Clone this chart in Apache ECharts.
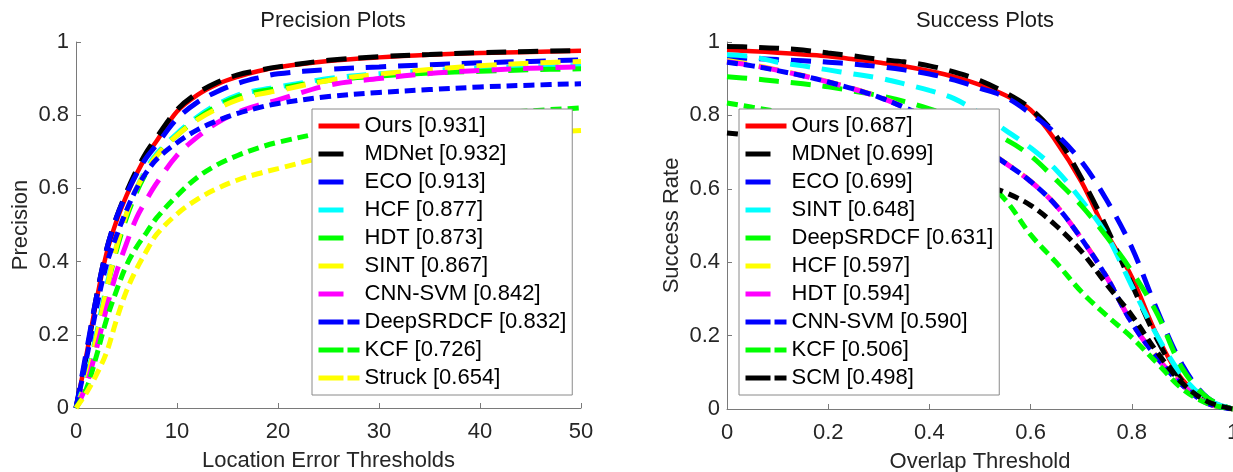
<!DOCTYPE html>
<html>
<head>
<meta charset="utf-8">
<title>Precision and Success Plots</title>
<script src="https://cdn.jsdelivr.net/npm/echarts@6/dist/echarts.min.js"></script>
<style>
  html, body { margin: 0; padding: 0; background: #ffffff; }
  #chart { width: 1233px; height: 472px; }
</style>
</head>
<body>
<div id="chart"></div>
<script>
// ---- Precision plot (location error threshold in pixels) ----
const locThresholds = [0, 1, 2, 3, 4, 5, 6, 7, 8, 10, 12, 14, 16, 18, 20, 25, 30, 35, 40, 45, 50];

const precOurs      = [0, 0.14, 0.29, 0.42, 0.51, 0.58, 0.64, 0.69, 0.73, 0.81, 0.855, 0.885, 0.905, 0.92, 0.931, 0.948, 0.958, 0.965, 0.970, 0.973, 0.976];
const precMDNet     = [0, 0.14, 0.30, 0.43, 0.52, 0.59, 0.65, 0.70, 0.74, 0.815, 0.86, 0.89, 0.91, 0.922, 0.932, 0.950, 0.960, 0.966, 0.971, 0.974, 0.977];
const precECO       = [0, 0.15, 0.30, 0.43, 0.52, 0.585, 0.64, 0.685, 0.72, 0.79, 0.835, 0.865, 0.887, 0.902, 0.913, 0.925, 0.932, 0.938, 0.943, 0.947, 0.951];
const precHCF       = [0, 0.08, 0.20, 0.33, 0.44, 0.53, 0.60, 0.655, 0.695, 0.75, 0.795, 0.83, 0.855, 0.868, 0.877, 0.900, 0.913, 0.922, 0.928, 0.932, 0.936];
const precHDT       = [0, 0.07, 0.19, 0.32, 0.43, 0.52, 0.59, 0.645, 0.69, 0.745, 0.79, 0.825, 0.85, 0.864, 0.873, 0.895, 0.907, 0.915, 0.920, 0.924, 0.927];
const precSINT      = [0, 0.07, 0.19, 0.32, 0.44, 0.53, 0.60, 0.65, 0.69, 0.745, 0.787, 0.818, 0.842, 0.857, 0.867, 0.895, 0.912, 0.925, 0.935, 0.942, 0.947];
const precCNNSVM    = [0, 0.06, 0.16, 0.27, 0.37, 0.45, 0.52, 0.57, 0.615, 0.69, 0.74, 0.78, 0.808, 0.827, 0.842, 0.882, 0.900, 0.914, 0.922, 0.928, 0.932];
const precDeepSRDCF = [0, 0.13, 0.27, 0.39, 0.47, 0.54, 0.60, 0.645, 0.68, 0.725, 0.76, 0.785, 0.805, 0.82, 0.832, 0.851, 0.862, 0.870, 0.877, 0.882, 0.886];
const precKCF       = [0, 0.05, 0.14, 0.24, 0.32, 0.39, 0.44, 0.48, 0.52, 0.58, 0.63, 0.665, 0.69, 0.71, 0.726, 0.755, 0.775, 0.790, 0.803, 0.812, 0.820];
const precStruck    = [0, 0.04, 0.09, 0.15, 0.24, 0.32, 0.38, 0.43, 0.475, 0.53, 0.57, 0.60, 0.623, 0.64, 0.654, 0.688, 0.710, 0.727, 0.740, 0.750, 0.758];

const precNames = ['Ours [0.931]', 'MDNet [0.932]', 'ECO [0.913]', 'HCF [0.877]', 'HDT [0.873]',
                   'SINT [0.867]', 'CNN-SVM [0.842]', 'DeepSRDCF [0.832]', 'KCF [0.726]', 'Struck [0.654]'];
const precValues = [precOurs, precMDNet, precECO, precHCF, precHDT, precSINT, precCNNSVM, precDeepSRDCF, precKCF, precStruck];

// ---- Success plot (overlap threshold) ----
const overlapThresholds = [0, 0.05, 0.1, 0.15, 0.2, 0.25, 0.3, 0.35, 0.4, 0.45, 0.5, 0.55, 0.6, 0.65, 0.7, 0.75, 0.8, 0.85, 0.9, 0.95, 1];

const succOurs      = [0.978, 0.975, 0.971, 0.966, 0.961, 0.953, 0.944, 0.934, 0.921, 0.905, 0.883, 0.855, 0.815, 0.73, 0.62, 0.48, 0.36, 0.20, 0.08, 0.025, 0];
const succMDNet     = [0.988, 0.986, 0.983, 0.978, 0.970, 0.962, 0.953, 0.946, 0.935, 0.918, 0.895, 0.862, 0.818, 0.745, 0.63, 0.495, 0.34, 0.19, 0.075, 0.02, 0];
const succECO       = [0.957, 0.955, 0.952, 0.949, 0.945, 0.940, 0.933, 0.924, 0.913, 0.896, 0.874, 0.85, 0.805, 0.75, 0.675, 0.57, 0.44, 0.27, 0.12, 0.03, 0];
const succSINT      = [0.965, 0.960, 0.945, 0.935, 0.924, 0.913, 0.902, 0.886, 0.868, 0.845, 0.805, 0.76, 0.712, 0.652, 0.57, 0.475, 0.335, 0.20, 0.09, 0.025, 0];
const succDeepSRDCF = [0.905, 0.900, 0.893, 0.886, 0.878, 0.866, 0.854, 0.838, 0.818, 0.795, 0.765, 0.735, 0.69, 0.625, 0.555, 0.47, 0.375, 0.26, 0.11, 0.03, 0];
const succHCF       = [0.950, 0.938, 0.924, 0.909, 0.892, 0.873, 0.851, 0.823, 0.791, 0.756, 0.716, 0.671, 0.621, 0.556, 0.466, 0.361, 0.236, 0.141, 0.066, 0.015, 0];
const succHDT       = [0.946, 0.936, 0.923, 0.908, 0.891, 0.872, 0.850, 0.822, 0.790, 0.755, 0.715, 0.670, 0.620, 0.555, 0.465, 0.360, 0.235, 0.140, 0.065, 0.015, 0];
const succCNNSVM    = [0.945, 0.935, 0.922, 0.908, 0.891, 0.872, 0.850, 0.822, 0.790, 0.755, 0.715, 0.670, 0.620, 0.555, 0.465, 0.360, 0.235, 0.140, 0.065, 0.015, 0];
const succKCF       = [0.834, 0.822, 0.810, 0.796, 0.780, 0.763, 0.743, 0.721, 0.696, 0.665, 0.63, 0.57, 0.475, 0.40, 0.32, 0.255, 0.195, 0.125, 0.055, 0.015, 0];
const succSCM       = [0.752, 0.745, 0.737, 0.728, 0.718, 0.706, 0.692, 0.677, 0.660, 0.640, 0.615, 0.59, 0.555, 0.50, 0.43, 0.34, 0.255, 0.155, 0.07, 0.02, 0];

const succNames = ['Ours [0.687]', 'MDNet [0.699]', 'ECO [0.699]', 'SINT [0.648]', 'DeepSRDCF [0.631]',
                   'HCF [0.597]', 'HDT [0.594]', 'CNN-SVM [0.590]', 'KCF [0.506]', 'SCM [0.498]'];
const succValues = [succOurs, succMDNet, succECO, succSINT, succDeepSRDCF, succHCF, succHDT, succCNNSVM, succKCF, succSCM];

// ---- styling ----
const FONT = '"Liberation Sans", Arial, Helvetica, sans-serif';
const RED = '#ff0000', BLACK = '#000000', BLUE = '#0000ff', CYAN = '#00ffff',
      GREEN = '#00ff00', YELLOW = '#ffff00', MAGENTA = '#ff00ff';

const precColors = [RED, BLACK, BLUE, CYAN, GREEN, YELLOW, MAGENTA, BLUE, GREEN, YELLOW];
const succColors = [RED, BLACK, BLUE, CYAN, GREEN, YELLOW, MAGENTA, BLUE, GREEN, BLACK];
const lineKinds  = ['solid', 'dash', 'dash', 'dash', 'dash', 'dash', 'dash', 'dot', 'dot', 'dot'];

const CURVE_DASH  = { solid: 'solid', dash: [20, 12], dot: [11, 6] };
const LEGEND_DASH = { solid: 'solid', dash: [25, 40], dot: [25, 4, 12, 40] };

function buildSeries(names, values, xs, colors, axisIndex) {
  return names.map((name, i) => ({
    name: name,
    type: 'line',
    xAxisIndex: axisIndex,
    yAxisIndex: axisIndex,
    data: xs.map((x, k) => [x, values[i][k]]),
    smooth: 0.35,
    symbol: 'none',
    silent: true,
    animation: false,
    lineStyle: {
      color: colors[i],
      width: lineKinds[i] === 'solid' ? 4.5 : 5,
      type: CURVE_DASH[lineKinds[i]],
      cap: 'butt'
    },
    itemStyle: { color: colors[i] }
  }));
}

function buildLegend(names, colors, left) {
  return {
    orient: 'vertical',
    left: left,
    top: 109,
    padding: [5, 6, 5, 4],
    itemGap: 4,
    itemWidth: 41,
    itemHeight: 12,
    backgroundColor: '#ffffff',
    borderColor: '#8a8a8a',
    borderWidth: 1,
    borderRadius: 0,
    selectedMode: false,
    textStyle: { fontFamily: FONT, fontSize: 22, lineHeight: 24, color: '#000000' },
    data: names.map((name, i) => ({
      name: name,
      itemStyle: { opacity: 0 },
      lineStyle: {
        color: colors[i],
        width: 5,
        type: LEGEND_DASH[lineKinds[i]],
        opacity: 1,
        cap: 'butt'
      }
    }))
  };
}

const axisCommon = {
  axisLine: { show: true, onZero: false, lineStyle: { color: '#7a7a7a', width: 1 } },
  axisTick: { show: true, inside: true, length: 5, lineStyle: { color: '#7a7a7a' } },
  splitLine: { show: false },
  nameLocation: 'middle',
  nameTextStyle: { fontFamily: FONT, fontSize: 22, color: '#262626' }
};

function xAxis(grid, max, interval, name) {
  return Object.assign({}, axisCommon, {
    type: 'value', gridIndex: grid, min: 0, max: max, interval: interval,
    name: name, nameGap: 42,
    axisLabel: { fontFamily: FONT, fontSize: 22, color: '#262626', margin: 13 }
  });
}
function yAxis(grid, name) {
  return Object.assign({}, axisCommon, {
    type: 'value', gridIndex: grid, min: 0, max: 1, interval: 0.2,
    name: name, nameGap: 44,
    axisLabel: { fontFamily: FONT, fontSize: 22, color: '#262626', margin: 7 }
  });
}

const chart = echarts.init(document.getElementById('chart'), null, { renderer: 'canvas' });
chart.setOption({
  backgroundColor: '#ffffff',
  animation: false,
  title: [
    { text: 'Precision Plots', left: 328, top: 5, textAlign: 'center',
      textStyle: { fontFamily: FONT, fontSize: 22, fontWeight: 'normal', color: '#1a1a1a' } },
    { text: 'Success Plots', left: 980, top: 5, textAlign: 'center',
      textStyle: { fontFamily: FONT, fontSize: 22, fontWeight: 'normal', color: '#1a1a1a' } }
  ],
  grid: [
    { left: 76, right: 652, top: 42, bottom: 64, containLabel: false, outerBoundsMode: 'none' },
    { left: 727, right: 0, top: 42, bottom: 63, containLabel: false, outerBoundsMode: 'none' }
  ],
  xAxis: [
    xAxis(0, 50, 10, 'Location Error Thresholds'),
    xAxis(1, 1, 0.2, 'Overlap Threshold')
  ],
  yAxis: [
    yAxis(0, 'Precision'),
    yAxis(1, 'Success Rate')
  ],
  legend: [
    buildLegend(precNames, precColors, 312),
    buildLegend(succNames, succColors, 739)
  ],
  series: buildSeries(precNames, precValues, locThresholds, precColors, 0)
    .concat(buildSeries(succNames, succValues, overlapThresholds, succColors, 1))
});
</script>
</body>
</html>
